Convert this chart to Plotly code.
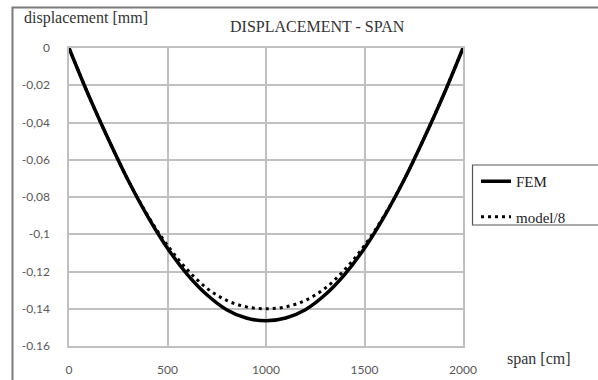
import plotly.graph_objects as go

span_cm = [0, 100, 200, 300, 400, 500, 600, 700, 800, 900, 1000,
           1100, 1200, 1300, 1400, 1500, 1600, 1700, 1800, 1900, 2000]
fem = [0, -0.0255, -0.049, -0.071, -0.0905, -0.1075, -0.1215, -0.1325, -0.1405, -0.145, -0.1465,
       -0.145, -0.1405, -0.1325, -0.1215, -0.1075, -0.0905, -0.071, -0.049, -0.0255, 0]
model8 = [0, -0.0255, -0.049, -0.071, -0.090, -0.106, -0.119, -0.129, -0.1355, -0.139, -0.140,
          -0.139, -0.1355, -0.129, -0.119, -0.106, -0.090, -0.071, -0.049, -0.0255, 0]

x_ticks = [0, 500, 1000, 1500, 2000]
y_ticks = [0, -0.02, -0.04, -0.06, -0.08, -0.1, -0.12, -0.14, -0.16]
y_tick_text = ["0", "-0,02", "-0,04", "-0,06", "-0,08", "-0,1", "-0,12", "-0,14", "-0.16"]

SERIF = "Times New Roman, Liberation Serif, DejaVu Serif, serif"
TICKFONT = dict(family="Lato", size=12, color="#595959")
GRID = "#c0c0c0"

fig = go.Figure()
fig.add_trace(go.Scatter(x=span_cm, y=fem, name="FEM", mode="lines",
                         line=dict(color="black", width=3.5, shape="spline"),
                         legendgroup="a"))
fig.add_trace(go.Scatter(x=span_cm, y=model8, name="model/8", mode="lines",
                         line=dict(color="black", width=3, dash="3px,4px", shape="spline"),
                         legendgroup="b"))

L, R, T, B = 69, 463, 48, 346
W, H = 598, 380
pw, ph = R - L, B - T

def px(xp):
    return (xp - L) / pw

def py(yp):
    return (B - yp) / ph

fig.update_layout(
    width=W, height=H,
    margin=dict(l=L, r=W - R, t=T, b=H - B, pad=0, autoexpand=False),
    paper_bgcolor="white", plot_bgcolor="white",
    showlegend=True,
    legend=dict(x=px(476), y=py(165), xanchor="left", yanchor="top",
                font=dict(family=SERIF, size=15, color="#222"),
                bgcolor="rgba(0,0,0,0)", borderwidth=0,
                tracegroupgap=13, itemwidth=30),
    xaxis=dict(range=[0, 2000], tickvals=x_ticks, ticktext=[str(v) for v in x_ticks],
               showgrid=True, gridcolor=GRID, gridwidth=1.5, automargin=False,
               showline=True, linecolor=GRID, linewidth=1.5, mirror=True,
               zeroline=False, ticks="", tickfont=TICKFONT, ticklabelstandoff=12),
    yaxis=dict(range=[-0.16, 0], tickvals=y_ticks, ticktext=y_tick_text,
               showgrid=True, gridcolor=GRID, gridwidth=1.5, automargin=False,
               showline=True, linecolor=GRID, linewidth=1.5, mirror=True,
               zeroline=False, ticks="", tickfont=TICKFONT, ticklabelstandoff=15),
    shapes=[
        dict(type="rect", xref="paper", yref="paper",
             x0=px(12.5), y0=py(420), x1=px(640), y1=py(7.5),
             line=dict(color="#7a7a7a", width=2), fillcolor="rgba(0,0,0,0)", layer="below"),
        dict(type="rect", xref="paper", yref="paper",
             x0=px(472.5), y0=py(225), x1=px(640), y1=py(165),
             line=dict(color="#555555", width=1.2), fillcolor="rgba(0,0,0,0)"),
    ],
    annotations=[
        dict(text="DISPLACEMENT - SPAN", xref="paper", yref="paper",
             x=px(317), y=py(26), xanchor="center", yanchor="middle", showarrow=False,
             font=dict(family=SERIF, size=16, color="#333")),
        dict(text="displacement [mm]", xref="paper", yref="paper",
             x=px(22), y=py(18), xanchor="left", yanchor="middle", showarrow=False,
             font=dict(family=SERIF, size=16, color="#333")),
        dict(text="span [cm]", xref="paper", yref="paper",
             x=px(505), y=py(359), xanchor="left", yanchor="middle", showarrow=False,
             font=dict(family=SERIF, size=16, color="#333")),
    ],
)

fig.write_html("out.html")
